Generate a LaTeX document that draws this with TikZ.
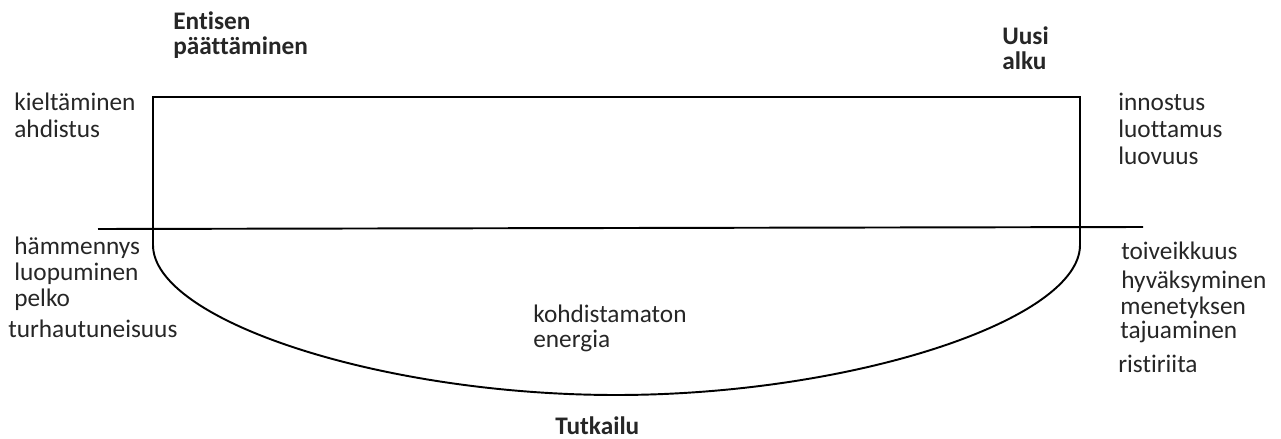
\documentclass[tikz,border=0pt]{standalone}
\usepackage{fontspec}
\setmainfont{Carlito}[Ligatures={NoCommon}]
\tikzstyle{word} = [anchor=mid west, inner sep=0pt, font=\fontsize{14.4}{16}\selectfont, text=black!85]
\tikzstyle{head} = [word, font=\fontsize{14.4}{14.2}\selectfont\bfseries, align=left]
\tikzstyle{curve} = [draw, line width=1.1pt]

\begin{document}
\begin{tikzpicture}[x=0.02cm, y=-0.02cm]
\useasboundingbox (0,0) rectangle (1281,439);
% box and curve
\draw [curve] (153,229) -- (153,97) -- (1080,97) -- (1080,229);
\draw [curve] (153,229) -- (153,245) .. controls (153,320) and (380,395) .. (616,395)
  .. controls (852,395) and (1080,320) .. (1080,245) -- (1080,229);
\draw [curve] (98,229) -- (1143,227);
% headings
\node [head, anchor=north west] (entisen) at (173,11) {Entisen\\päättäminen};
\node [head, anchor=north west] (uusi) at (1002,26) {Uusi\\alku};
\node [head] (tutkailu) at (555,430) {Tutkailu};
% left side
\node [word] (kieltaminen) at (14,106) {kieltäminen};
\node [word] (ahdistus) at (14,133) {ahdistus};
\node [word] (hammennys) at (14,250) {hämmennys};
\node [word] (luopuminen) at (14,276) {luopuminen};
\node [word] (pelko) at (14,302) {pelko};
\node [word] (turhautuneisuus) at (8,333) {turhautuneisuus};
% right side
\node [word] (innostus) at (1118,106) {innostus};
\node [word] (luottamus) at (1118,133) {luottamus};
\node [word] (luovuus) at (1118,160) {luovuus};
\node [word] (toiveikkuus) at (1121,255) {toiveikkuus};
\node [word] (hyvaksyminen) at (1121,284) {hyväksyminen};
\node [word] (menetyksen) at (1120,310) {menetyksen};
\node [word] (tajuaminen) at (1120,334) {tajuaminen};
\node [word] (ristiriita) at (1118,368) {ristiriita};
% middle
\node [word] (kohdistamaton) at (533,318) {kohdistamaton};
\node [word] (energia) at (533,343) {energia};
\end{tikzpicture}
\end{document}
